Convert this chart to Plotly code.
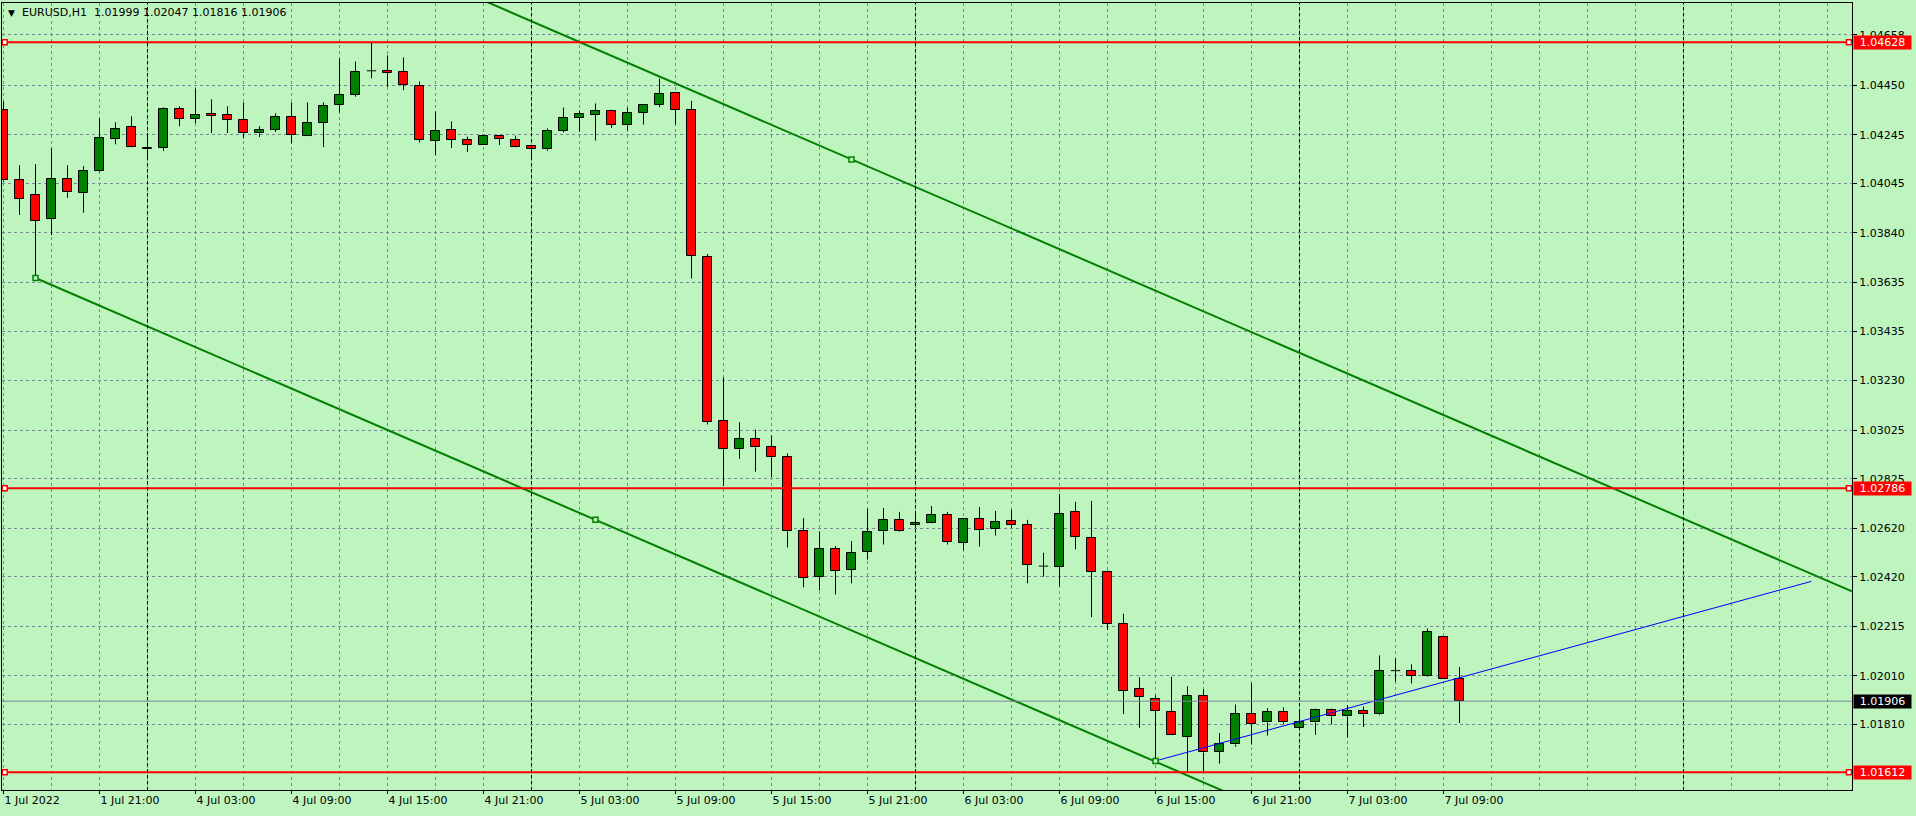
import plotly.graph_objects as go
import pandas as pd

# ---------------- data ----------------
symbol = "EURUSD,H1"
times = list(pd.date_range("2022-07-01 15:00", periods=9, freq="h")) + \
        list(pd.date_range("2022-07-04 00:00", periods=83, freq="h"))

opens = [1.04349, 1.04057, 1.03995, 1.03897, 1.04065, 1.04004, 1.04098, 1.04230, 1.04279, 1.04185,
         1.04193, 1.04353, 1.04312, 1.04333, 1.04329, 1.04308, 1.04251, 1.04267, 1.04320, 1.04242,
         1.04296, 1.04370, 1.04411, 1.04510, 1.04510, 1.04506, 1.04448, 1.04222, 1.04267, 1.04226,
         1.04205, 1.04242, 1.04226, 1.04201, 1.04185, 1.04263, 1.04316, 1.04329, 1.04345, 1.04284,
         1.04337, 1.04370, 1.04419, 1.04349, 1.03740, 1.03065, 1.02946, 1.02991, 1.02954, 1.02913,
         1.02608, 1.02419, 1.02534, 1.02448, 1.02522, 1.02608, 1.02654, 1.02633, 1.02641, 1.02674,
         1.02559, 1.02658, 1.02617, 1.02649, 1.02633, 1.02464, 1.02460, 1.02687, 1.02580, 1.02440,
         1.02226, 1.01958, 1.01913, 1.01863, 1.01760, 1.01929, 1.01697, 1.01727, 1.01855, 1.01818,
         1.01863, 1.01797, 1.01818, 1.01871, 1.01843, 1.01867, 1.01851, 1.02032, 1.02032, 1.02012,
         1.02172, 1.01999]
highs = [1.04383, 1.04120, 1.04124, 1.04190, 1.04120, 1.04116, 1.04314, 1.04297, 1.04322, 1.04242,
         1.04359, 1.04363, 1.04437, 1.04392, 1.04363, 1.04379, 1.04281, 1.04334, 1.04379, 1.04379,
         1.04379, 1.04561, 1.04548, 1.04626, 1.04574, 1.04565, 1.04466, 1.04342, 1.04301, 1.04238,
         1.04243, 1.04243, 1.04242, 1.04204, 1.04272, 1.04358, 1.04346, 1.04375, 1.04349, 1.04358,
         1.04371, 1.04478, 1.04421, 1.04386, 1.03753, 1.03243, 1.03058, 1.03028, 1.03003, 1.02929,
         1.02662, 1.02607, 1.02547, 1.02567, 1.02700, 1.02704, 1.02688, 1.02684, 1.02712, 1.02688,
         1.02659, 1.02708, 1.02692, 1.02696, 1.02655, 1.02519, 1.02762, 1.02729, 1.02733, 1.02445,
         1.02267, 1.02005, 1.01930, 1.02007, 1.01967, 1.01955, 1.01774, 1.01892, 1.01980, 1.01877,
         1.01880, 1.01867, 1.01875, 1.01875, 1.01889, 1.01884, 1.02095, 1.02083, 1.02058, 1.02206,
         1.02173, 1.02047]
lows = [1.04050, 1.03915, 1.03654, 1.03831, 1.03985, 1.03924, 1.04093, 1.04206, 1.04194, 1.04153,
        1.04179, 1.04281, 1.04294, 1.04253, 1.04253, 1.04231, 1.04237, 1.04257, 1.04211, 1.04240,
        1.04195, 1.04338, 1.04403, 1.04479, 1.04444, 1.04430, 1.04214, 1.04163, 1.04191, 1.04175,
        1.04204, 1.04204, 1.04194, 1.04154, 1.04179, 1.04255, 1.04259, 1.04222, 1.04274, 1.04264,
        1.04288, 1.04360, 1.04289, 1.03652, 1.03049, 1.02795, 1.02907, 1.02854, 1.02832, 1.02541,
        1.02376, 1.02364, 1.02347, 1.02393, 1.02491, 1.02553, 1.02605, 1.02622, 1.02640, 1.02553,
        1.02530, 1.02545, 1.02590, 1.02621, 1.02393, 1.02420, 1.02380, 1.02533, 1.02253, 1.02201,
        1.01853, 1.01796, 1.01659, 1.01766, 1.01614, 1.01614, 1.01648, 1.01718, 1.01727, 1.01764,
        1.01810, 1.01796, 1.01767, 1.01810, 1.01756, 1.01800, 1.01847, 1.01987, 1.01979, 1.02007,
        1.01998, 1.01816]
closes = [1.04057, 1.03981, 1.03891, 1.04065, 1.04008, 1.04098, 1.04231, 1.04268, 1.04197, 1.04193,
          1.04353, 1.04312, 1.04329, 1.04323, 1.04308, 1.04251, 1.04267, 1.04320, 1.04246, 1.04296,
          1.04366, 1.04411, 1.04506, 1.04510, 1.04502, 1.04452, 1.04226, 1.04263, 1.04226, 1.04205,
          1.04242, 1.04230, 1.04197, 1.04185, 1.04263, 1.04316, 1.04333, 1.04345, 1.04288, 1.04337,
          1.04370, 1.04415, 1.04349, 1.03746, 1.03061, 1.02946, 1.02987, 1.02954, 1.02913, 1.02608,
          1.02415, 1.02534, 1.02444, 1.02518, 1.02604, 1.02654, 1.02608, 1.02641, 1.02674, 1.02563,
          1.02658, 1.02612, 1.02645, 1.02633, 1.02468, 1.02464, 1.02678, 1.02584, 1.02440, 1.02226,
          1.01950, 1.01925, 1.01867, 1.01767, 1.01929, 1.01694, 1.01727, 1.01855, 1.01810, 1.01863,
          1.01818, 1.01818, 1.01871, 1.01843, 1.01867, 1.01851, 1.02032, 1.02032, 1.02012, 1.02193,
          1.01999, 1.01906]

# horizontal levels (red lines) and current bid
levels = [1.04628, 1.02786, 1.01612]
bid = 1.01906

# channel anchors: (bar index, price)
channel_a1 = (2, 1.03654)
channel_a2 = (37, 1.02655)
channel_a3 = (53, 1.04144)
# blue trend line anchors
blue_a1 = (72, 1.01659)
blue_a2 = (113, 1.02401)

# price axis tick labels
ytick_vals = [1.04658, 1.04450, 1.04245, 1.04045, 1.03840, 1.03635, 1.03435, 1.03230,
              1.03025, 1.02825, 1.02620, 1.02420, 1.02215, 1.02010, 1.01810]
ytick_text = ["1.04658", "1.04450", "1.04245", "1.04045", "1.03840", "1.03635", "1.03435", "1.03230",
              "1.03025", "1.02825", "1.02620", "1.02420", "1.02215", "1.02010", "1.01810"]

# ---------------- styling ----------------
BG = "#BEF4BE"
GRID = "#778899"
UP = "#008000"
DN = "#FF0000"
FONT = "DejaVu Sans"

W, H = 1916, 816
ML, MR, MT, MB = 2, 64, 3, 26
PX_PER_BAR = 16.0
plot_w = W - ML - MR
xr = [-1.5 / PX_PER_BAR, -1.5 / PX_PER_BAR + plot_w / PX_PER_BAR]
yr = [1.01539, 1.04790]

n = len(opens)
ks = list(range(n))

# future times for period separators
all_times = times + [times[-1] + pd.Timedelta(hours=i) for i in range(1, int(xr[1]) - n + 2)]

fig = go.Figure()

# wicks (split around body so bodies stay visible)
wx, wy = [], []
for k in ks:
    o, h, l, c = opens[k], highs[k], lows[k], closes[k]
    top, bot = max(o, c), min(o, c)
    wx += [k, k, None, k, k, None]
    wy += [top, h, None, bot, l, None]
    if o == c:
        wx += [k - 0.29, k + 0.29, None]
        wy += [o, o, None]
fig.add_trace(go.Scatter(x=wx, y=wy, mode="lines", line=dict(color="black", width=1),
                         hoverinfo="skip"))

upk = [k for k in ks if closes[k] > opens[k]]
dnk = [k for k in ks if closes[k] < opens[k]]
fig.add_trace(go.Bar(x=upk, base=[opens[k] for k in upk], y=[closes[k] - opens[k] for k in upk],
                     width=0.58, marker=dict(color=UP, line=dict(color="black", width=1))))
fig.add_trace(go.Bar(x=dnk, base=[closes[k] for k in dnk], y=[opens[k] - closes[k] for k in dnk],
                     width=0.58, marker=dict(color=DN, line=dict(color="black", width=1))))

# channel
slope = (channel_a2[1] - channel_a1[1]) / (channel_a2[0] - channel_a1[0])
def low_line(k):
    return channel_a1[1] + slope * (k - channel_a1[0])
offset = channel_a3[1] - low_line(channel_a3[0])
cx = [channel_a1[0], xr[1]]
fig.add_trace(go.Scatter(x=cx, y=[low_line(k) for k in cx], mode="lines",
                         line=dict(color=UP, width=2), hoverinfo="skip"))
fig.add_trace(go.Scatter(x=cx, y=[low_line(k) + offset for k in cx], mode="lines",
                         line=dict(color=UP, width=2), hoverinfo="skip"))

# blue trend line
fig.add_trace(go.Scatter(x=[blue_a1[0], blue_a2[0]], y=[blue_a1[1], blue_a2[1]], mode="lines",
                         line=dict(color="#0000FF", width=1), hoverinfo="skip"))

# current bid line
fig.add_trace(go.Scatter(x=[xr[0], xr[1]], y=[bid, bid], mode="lines",
                         line=dict(color="#7C8496", width=1), hoverinfo="skip"))

# red level lines
for lv in levels:
    fig.add_trace(go.Scatter(x=[xr[0], xr[1]], y=[lv, lv], mode="lines",
                             line=dict(color="#FF0000", width=2), hoverinfo="skip"))
    fig.add_trace(go.Scatter(x=[xr[0] + 0.17, xr[1] - 0.19], y=[lv, lv], mode="markers",
                             marker=dict(symbol="square", size=5, color="white",
                                         line=dict(color="#FF0000", width=1.5)),
                             hoverinfo="skip"))

# anchor squares
ax_ = [channel_a1[0], channel_a2[0], channel_a3[0], blue_a1[0]]
ay_ = [channel_a1[1], channel_a2[1], channel_a3[1], blue_a1[1]]
fig.add_trace(go.Scatter(x=ax_, y=ay_, mode="markers",
                         marker=dict(symbol="square", size=5, color=BG,
                                     line=dict(color=UP, width=1.5)), hoverinfo="skip"))

# period separators (day starts)
shapes = []
for k, t in enumerate(all_times):
    if t.hour == 0 and xr[0] < k < xr[1]:
        shapes.append(dict(type="line", xref="x", yref="paper", x0=k, x1=k, y0=0, y1=1,
                           line=dict(color="black", width=1, dash="3px,3px"), layer="above"))

# x tick labels
label_ks = list(range(0, n, 6))
label_txt = []
for i, k in enumerate(label_ks):
    t = times[k]
    if i == 0:
        label_txt.append(f"{t.day} {t.strftime('%b')} {t.year}")
    else:
        label_txt.append(f"{t.day} {t.strftime('%b')} {t.strftime('%H:%M')}")
grid_ks = list(range(0, int(xr[1]) + 1, 3))

annotations = []
for lv in levels:
    annotations.append(dict(xref="paper", yref="y", x=1, y=lv, xanchor="left", yanchor="middle",
                            xshift=1, text=f"{lv:.5f}", showarrow=False, width=57, height=13,
                            bgcolor="#FF0000", borderpad=0,
                            font=dict(family=FONT, size=11, color="white")))
annotations.append(dict(xref="paper", yref="y", x=1, y=bid, xanchor="left", yanchor="middle",
                        xshift=1, text=f"{bid:.5f}", showarrow=False, width=57, height=13,
                        bgcolor="black", borderpad=0, font=dict(family=FONT, size=11, color="white")))

def px2paper(px):
    return (px - ML) / plot_w
ty = 1 - (12.5 - MT) / (H - MT - MB)
annotations.append(dict(xref="paper", yref="paper", x=px2paper(6), y=ty, xanchor="left",
                        yanchor="middle", text="▼", showarrow=False,
                        font=dict(family=FONT, size=9, color="black")))
annotations.append(dict(xref="paper", yref="paper", x=px2paper(20), y=ty, xanchor="left",
                        yanchor="middle", text=symbol, showarrow=False,
                        font=dict(family=FONT, size=11, color="black")))
annotations.append(dict(xref="paper", yref="paper", x=px2paper(92), y=ty, xanchor="left",
                        yanchor="middle",
                        text=" ".join(f"{v:.5f}" for v in (opens[-1], highs[-1], lows[-1], closes[-1])),
                        showarrow=False, font=dict(family=FONT, size=11, color="black")))

fig.update_layout(
    width=W, height=H, margin=dict(l=ML, r=MR, t=MT, b=MB),
    paper_bgcolor=BG, plot_bgcolor=BG, showlegend=False, bargap=0, hovermode=False,
    shapes=shapes, annotations=annotations,
    xaxis=dict(range=xr, tickmode="array", tickvals=label_ks, ticktext=label_txt,
               ticks="outside", ticklen=3, tickcolor="black", ticklabelposition="outside right",
               showgrid=True, gridcolor=GRID, griddash="3px,3px", gridwidth=1,
               minor=dict(tickmode="array", tickvals=grid_ks, showgrid=True, gridcolor=GRID,
                          griddash="3px,3px", gridwidth=1, ticks=""),
               showline=True, linecolor="black", linewidth=1, mirror=True, zeroline=False,
               tickfont=dict(family=FONT, size=11, color="black")),
    yaxis=dict(range=yr, side="right", tickmode="array", tickvals=ytick_vals, ticktext=ytick_text,
               ticks="outside", ticklen=4, tickcolor="black",
               showgrid=True, gridcolor=GRID, griddash="3px,3px", gridwidth=1,
               showline=True, linecolor="black", linewidth=1, mirror=True, zeroline=False,
               tickfont=dict(family=FONT, size=11, color="black")),
)

fig.write_html("out.html", config={"displayModeBar": False},
               post_script="document.body.style.margin='0px';document.body.style.overflow='hidden';")
